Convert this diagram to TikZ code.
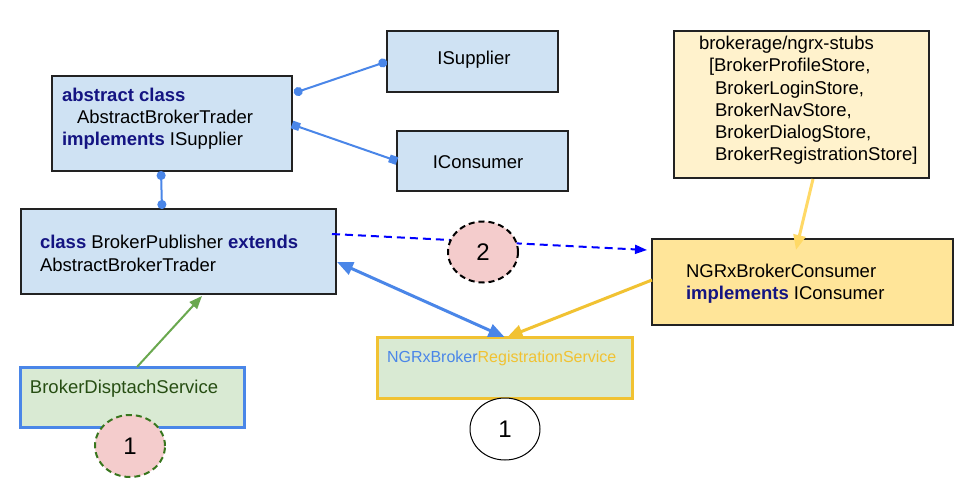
\documentclass[tikz,border=0pt]{standalone}
\usepackage{fontspec}
\setmainfont{Liberation Sans}
\usetikzlibrary{arrows.meta,shapes.geometric,calc}
\definecolor{boxblue}{HTML}{CFE2F3}
\definecolor{boxcream}{HTML}{FFF2CC}
\definecolor{boxgold}{HTML}{FFE599}
\definecolor{boxgreen}{HTML}{D9EAD3}
\definecolor{boxpink}{HTML}{F4CCCC}
\definecolor{lineblue}{HTML}{4A86E8}
\definecolor{lineyellow}{HTML}{F1C232}
\definecolor{lightyellow}{HTML}{FFD966}
\definecolor{linegreen}{HTML}{6AA84F}
\definecolor{darkgreen}{HTML}{38761D}
\definecolor{textgreen}{HTML}{274E13}
\definecolor{navy}{HTML}{141482}
\definecolor{pureblue}{HTML}{0000FF}
\definecolor{edge}{HTML}{222222}
\newcommand{\kw}[1]{\textbf{\color{navy}#1}}
\begin{document}
\begin{tikzpicture}[x=1pt,y=-1pt,
  font=\fontsize{18.5}{22}\selectfont,
  boxbase/.style={rectangle, anchor=north west, inner sep=0pt, outer sep=0pt},
  bluebox/.style={boxbase, draw=edge, line width=1.2pt, fill=boxblue},
  txt/.style={anchor=base west, inner sep=0pt, outer sep=0pt},
  ctxt/.style={anchor=base, inner sep=0pt, outer sep=0pt},
  oval/.style={ellipse, inner sep=0pt, minimum width=70pt, minimum height=62pt, font=\fontsize{24}{28}\selectfont},
  dotlink/.style={draw=lineblue, line width=2pt, {Circle[length=9pt]}-{Circle[length=9pt]}},
  sqlink/.style={draw=lineblue, line width=2pt, {Square[length=8pt,width=8pt]}-{Square[length=8pt,width=8pt]}}
]
\useasboundingbox (0,0) rectangle (954,503);
\fill[white] (0,0) rectangle (954,503);

% boxes
\node[bluebox, minimum width=240pt, minimum height=95pt] (abs) at (52,76) {};
\node[bluebox, minimum width=171pt, minimum height=61pt] (isup) at (387,31) {};
\node[bluebox, minimum width=171pt, minimum height=60pt] (icons) at (397,131) {};
\node[bluebox, minimum width=315pt, minimum height=85pt] (pub) at (21,209) {};
\node[boxbase, draw=lineblue, line width=3pt, fill=boxgreen, minimum width=224pt, minimum height=60pt] (bds) at (20,367) {};
\node[boxbase, draw=lineyellow, line width=3pt, fill=boxgreen, minimum width=255pt, minimum height=61pt] (reg) at (377,337) {};
\node[boxbase, draw=edge, line width=1.2pt, fill=boxcream, minimum width=255pt, minimum height=147pt] (brk) at (674,31) {};
\node[boxbase, draw=edge, line width=1.2pt, fill=boxgold, minimum width=301pt, minimum height=86pt] (cons) at (652,239) {};

% texts
\node[txt] (absT1) at (62,102) {\kw{abstract class}};
\node[txt] (absT2) at (77,124) {AbstractBrokerTrader};
\node[txt] (absT3) at (62,145) {\kw{implements} ISupplier};
\node[ctxt] (isupT) at (474,65) {ISupplier};
\node[ctxt] (iconsT) at (478,168) {IConsumer};
\node[txt] (pubT1) at (40,248) {\kw{class} BrokerPublisher \kw{extends}};
\node[txt] (pubT2) at (40,271) {AbstractBrokerTrader};
\node[txt, text=textgreen] (bdsT) at (30,393) {BrokerDisptachService};
\node[txt, font=\fontsize{16}{19}\selectfont] (regT) at (387,362) {\textcolor{lineblue}{NGRxBroker}\textcolor{lineyellow}{RegistrationService}};
\node[txt] (brkT1) at (699,50) {brokerage/ngrx-stubs};
\node[txt] (brkT2) at (709,72) {[BrokerProfileStore,};
\node[txt] (brkT3) at (715,95) {BrokerLoginStore,};
\node[txt] (brkT4) at (715,117) {BrokerNavStore,};
\node[txt] (brkT5) at (715,139) {BrokerDialogStore,};
\node[txt] (brkT6) at (715,160) {BrokerRegistrationStore]};
\node[txt] (consT1) at (686,277) {NGRxBrokerConsumer};
\node[txt] (consT2) at (686,299) {\kw{implements} IConsumer};

% connectors
\draw[dotlink] ($(abs.north east)+(2,17)$) -- (isup.west);
\draw[sqlink] ($(abs.east)+(0,1)$) -- (icons.west);
\draw[dotlink] ($(abs.south west)+(109,0)$) -- ($(pub.north west)+(141,0)$);
\draw[draw=pureblue, line width=2pt, dash pattern=on 8pt off 5pt, -{Triangle[length=12pt,width=9pt]}]
  ($(pub.north east)+(-4,25)$) -- ($(cons.north west)+(-5,11)$);
\draw[draw=lineblue, line width=3pt, {Triangle[length=16pt,width=13pt]}-{Triangle[length=16pt,width=13pt]}]
  ($(pub.north east)+(1,53)$) -- (reg.north);
\draw[draw=lineyellow, line width=3pt, -{Triangle[length=15pt,width=13pt]}]
  ($(cons.west)+(0,-2)$) -- ($(reg.north)+(3,0)$);
\draw[draw=lightyellow, line width=3pt, -{Triangle[length=15pt,width=12pt]}]
  ($(brk.south)+(11.5,1)$) -- ($(cons.north west)+(144,11)$);
\draw[draw=linegreen, line width=2pt, -{Triangle[length=13pt,width=10pt]}]
  ($(bds.north)+(5,0)$) -- ($(pub.south west)+(181,2)$);

% circles
\node[oval, draw=black, line width=2pt, dash pattern=on 6pt off 4pt, fill=boxpink, minimum height=61pt] (c2) at (483,252) {2};
\node[oval, draw=darkgreen, line width=2pt, dash pattern=on 6pt off 4pt, fill=boxpink] (c1a) at (130,446) {1};
\node[oval, draw=black, line width=1pt, fill=white] (c1b) at (505,429) {1};
\end{tikzpicture}
\end{document}
